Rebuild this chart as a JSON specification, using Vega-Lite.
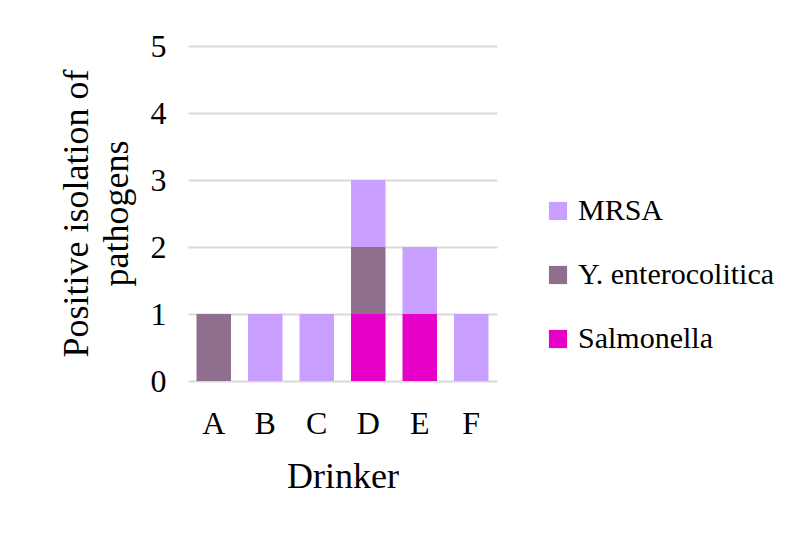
{
  "$schema": "https://vega.github.io/schema/vega-lite/v6.json",
  "width": 309,
  "height": 335,
  "autosize": {"type": "none"},
  "padding": {"left": 188, "top": 46, "right": 296, "bottom": 152},
  "background": "#ffffff",
  "data": {
    "values": [
      {"drinker": "A", "pathogen": "Y. enterocolitica", "count": 1},
      {"drinker": "B", "pathogen": "MRSA", "count": 1},
      {"drinker": "C", "pathogen": "MRSA", "count": 1},
      {"drinker": "D", "pathogen": "Salmonella", "count": 1},
      {"drinker": "D", "pathogen": "Y. enterocolitica", "count": 1},
      {"drinker": "D", "pathogen": "MRSA", "count": 1},
      {"drinker": "E", "pathogen": "Salmonella", "count": 1},
      {"drinker": "E", "pathogen": "MRSA", "count": 1},
      {"drinker": "F", "pathogen": "MRSA", "count": 1}
    ]
  },
  "transform": [
    {"lookup": "pathogen", "from": {"data": {"values": [
      {"pathogen": "Salmonella", "pathogenOrder": 1},
      {"pathogen": "Y. enterocolitica", "pathogenOrder": 2},
      {"pathogen": "MRSA", "pathogenOrder": 3}
    ]}, "key": "pathogen", "fields": ["pathogenOrder"]}}
  ],
  "mark": {"type": "bar"},
  "encoding": {
    "x": {
      "field": "drinker",
      "type": "nominal",
      "title": "Drinker",
      "scale": {"paddingInner": 0.33, "paddingOuter": 0.165},
      "axis": {
        "labelAngle": 0,
        "ticks": false,
        "domain": false,
        "labelPadding": 27,
        "labelFontSize": 32,
        "titleFontSize": 36,
        "titlePadding": 20
      }
    },
    "y": {
      "field": "count",
      "type": "quantitative",
      "aggregate": "sum",
      "stack": "zero",
      "scale": {"domain": [0, 5]},
      "axis": {
        "values": [0, 1, 2, 3, 4, 5],
        "title": ["Positive isolation of", "pathogens"],
        "titleX": -112,
        "titleY": 167,
        "titleAngle": -90,
        "titleAlign": "center",
        "titleBaseline": "middle",
        "titleFontSize": 36,
        "titleLineHeight": 40,
        "ticks": false,
        "domain": false,
        "labelPadding": 22,
        "labelFontSize": 32,
        "gridColor": "#d9d9d9",
        "gridWidth": 2
      }
    },
    "color": {
      "field": "pathogen",
      "type": "nominal",
      "title": null,
      "scale": {
        "domain": ["MRSA", "Y. enterocolitica", "Salmonella"],
        "range": ["#c9a0ff", "#8f6e8e", "#e600c8"]
      },
      "legend": {
        "orient": "none",
        "legendX": 355,
        "legendY": 150,
        "symbolType": "square",
        "symbolSize": 330,
        "labelFontSize": 30,
        "labelLimit": 0,
        "rowPadding": 34,
        "labelOffset": 5
      }
    },
    "order": {"field": "pathogenOrder"}
  },
  "config": {
    "font": "Liberation Serif",
    "view": {"stroke": null},
    "axis": {"labelColor": "#000000", "titleColor": "#000000", "titleFontWeight": "normal", "labelFont": "Liberation Serif", "titleFont": "Liberation Serif"},
    "legend": {"labelColor": "#000000", "labelFont": "Liberation Serif"}
  }
}
